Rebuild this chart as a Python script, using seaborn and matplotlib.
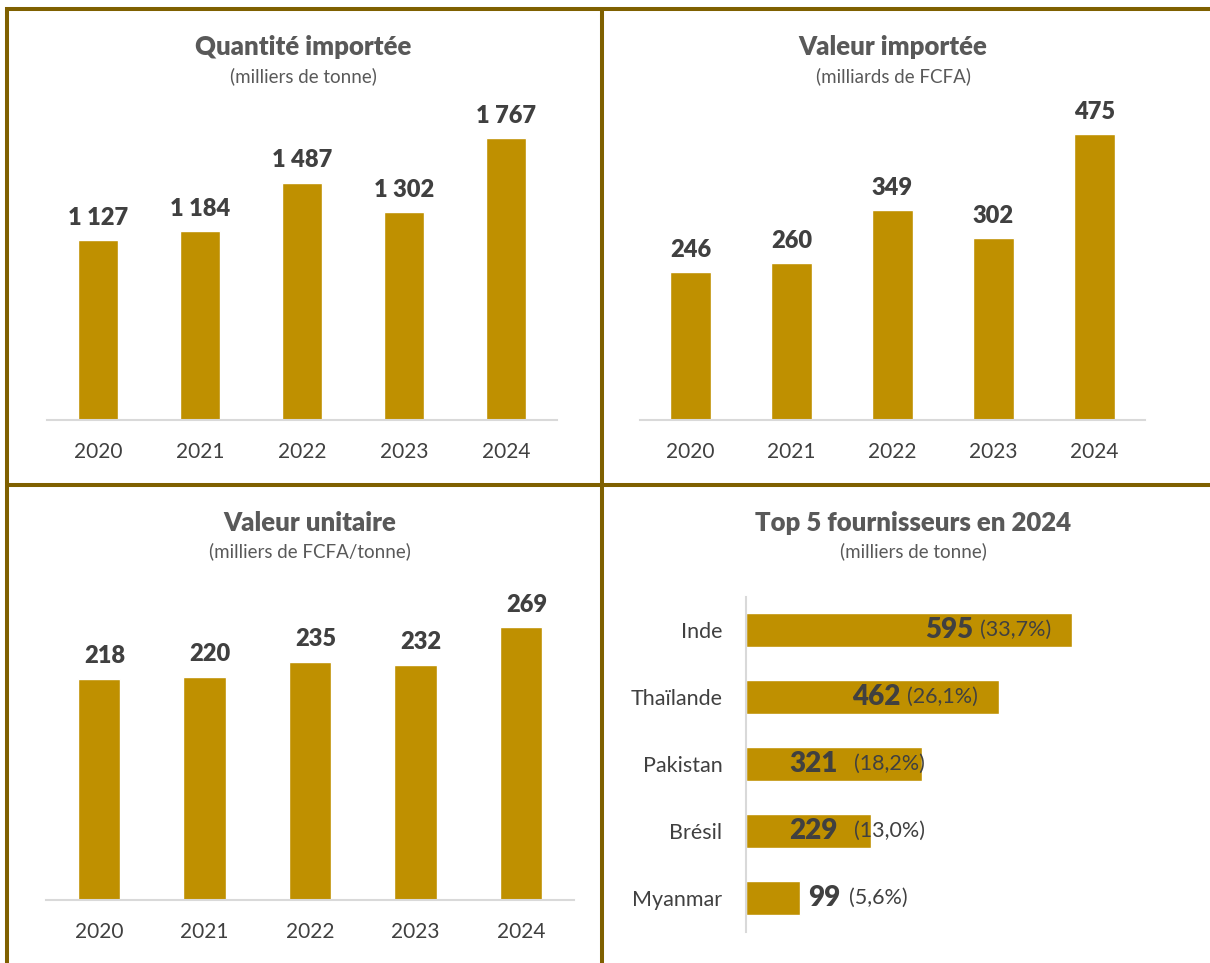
import matplotlib
matplotlib.use('Agg')
import matplotlib.pyplot as plt
import seaborn as sns
import pandas as pd
from matplotlib.lines import Line2D

# ---------------- data ----------------
years = ['2020', '2021', '2022', '2023', '2024']
quantite = [1127, 1184, 1487, 1302, 1767]      # milliers de tonne
valeur = [246, 260, 349, 302, 475]             # milliards de FCFA
unitaire = [218, 220, 235, 232, 269]           # milliers de FCFA/tonne
pays = ['Inde', 'Thaïlande', 'Pakistan', 'Brésil', 'Myanmar']
fournisseurs = [595, 462, 321, 229, 99]        # milliers de tonne
parts = ['33,7%', '26,1%', '18,2%', '13,0%', '5,6%']

titles = ['Quantité importée', 'Valeur importée', 'Valeur unitaire', 'Top 5 fournisseurs en 2024']
subtitles = ['(milliers de tonne)', '(milliards de FCFA)', '(milliers de FCFA/tonne)', '(milliers de tonne)']

# ---------------- style ----------------
BAR = '#BF9000'
BORDER = '#7F6000'
DARK = '#404040'
TITLE = '#595959'
AXIS = '#D9D9D9'

sns.set_theme(style='white')
plt.rcParams['font.family'] = ['Lato', 'DejaVu Sans']

W, H = 1210, 963
fig = plt.figure(figsize=(W / 100, H / 100), dpi=100)


def ax_px(l, t, r, b):
    return fig.add_axes([l / W, 1 - b / H, (r - l) / W, (b - t) / H])


def fmt(v):
    return f'{v:,}'.replace(',', ' ')


def vbar_panel(ax, values, dx=0):
    df = pd.DataFrame({'annee': years, 'valeur': values})
    sns.barplot(data=df, x='annee', y='valeur', color=BAR, saturation=1,
                width=0.4, ax=ax)
    ax.set_xlim(-0.5, len(years) - 0.5)
    ax.set_ylim(0, max(values))
    for i, v in enumerate(values):
        ax.annotate(fmt(v), xy=(i, v), xytext=(dx, 11), textcoords='offset points',
                    ha='center', va='baseline', fontsize=17, fontweight='heavy',
                    color=DARK, annotation_clip=False)
    for s in ['top', 'right', 'left']:
        ax.spines[s].set_visible(False)
    ax.spines['bottom'].set_color(AXIS)
    ax.spines['bottom'].set_linewidth(1.5)
    ax.set_xlabel('')
    ax.set_ylabel('')
    ax.set_yticks([])
    ax.tick_params(axis='x', length=0, pad=16, labelsize=15, labelcolor=DARK)
    ax.patch.set_alpha(0)


# Panel 1
ax1 = ax_px(47, 138, 557, 420)
vbar_panel(ax1, quantite)
# Panel 2
ax2 = ax_px(640, 134, 1145, 420)
vbar_panel(ax2, valeur)
# Panel 3
ax3 = ax_px(46, 627, 574, 900)
vbar_panel(ax3, unitaire, dx=4)

# Panel 4 : horizontal bars
ax4 = ax_px(746, 596.5, 1072, 931.5)
df4 = pd.DataFrame({'pays': pays, 'valeur': fournisseurs})
sns.barplot(data=df4, x='valeur', y='pays', orient='h', color=BAR, saturation=1,
            width=0.5, ax=ax4)
ax4.set_xlim(0, max(fournisseurs))
ax4.set_ylim(len(pays) - 0.5, -0.5)
for s in ['top', 'right', 'bottom']:
    ax4.spines[s].set_visible(False)
ax4.spines['left'].set_color(AXIS)
ax4.spines['left'].set_linewidth(1.5)
ax4.set_xlabel('')
ax4.set_ylabel('')
ax4.set_xticks([])
ax4.tick_params(axis='y', length=0, pad=17, labelsize=15.5, labelcolor=DARK)
ax4.patch.set_alpha(0)

modes = ['inside_end', 'inside_end', 'inside_base', 'inside_base', 'outside_end']
for i, (v, p, m) in enumerate(zip(fournisseurs, parts, modes)):
    if m == 'inside_end':
        pct = ax4.annotate(f'({p})', xy=(v, i), xytext=(-15, 0), textcoords='offset points',
                           ha='right', va='center', fontsize=15.5, color=DARK,
                           annotation_clip=False)
        ax4.annotate(fmt(v), xy=(0, 0.5), xycoords=pct, xytext=(-5, 0),
                     textcoords='offset points', ha='right', va='center',
                     fontsize=20, fontweight='heavy', color=DARK)
    else:
        if m == 'inside_base':
            anchor, off, gap = (0, i), 31, 12
        else:
            anchor, off, gap = (v, i), 6, 6
        num = ax4.annotate(fmt(v), xy=anchor, xytext=(off, 0), textcoords='offset points',
                           ha='left', va='center', fontsize=20, fontweight='heavy',
                           color=DARK, annotation_clip=False)
        ax4.annotate(f'({p})', xy=(1, 0.5), xycoords=num, xytext=(gap, 0),
                     textcoords='offset points', ha='left', va='center',
                     fontsize=15.5, color=DARK)

# ---------------- titles ----------------
title_pos = [(303, 47, 76), (893, 47, 76), (310, 523, 551), (913, 523, 551)]
for (x, yt, ys), t, st in zip(title_pos, titles, subtitles):
    fig.text(x / W, 1 - yt / H, t, ha='center', va='center', fontsize=18.5,
             fontweight='heavy', color=TITLE)
    fig.text(x / W, 1 - ys / H, st, ha='center', va='center', fontsize=13.5,
             color=TITLE)

# ---------------- frame lines ----------------
def hline(y, x0, x1):
    fig.add_artist(Line2D([x0 / W, x1 / W], [1 - y / H, 1 - y / H],
                          transform=fig.transFigure, color=BORDER, lw=2.9,
                          solid_capstyle='butt'))


def vline(x, y0, y1):
    fig.add_artist(Line2D([x / W, x / W], [1 - y0 / H, 1 - y1 / H],
                          transform=fig.transFigure, color=BORDER, lw=2.9,
                          solid_capstyle='butt'))


hline(9, 5, 1210)
hline(485, 5, 1210)
vline(6.5, 7, 963)
vline(602, 7, 963)

fig.savefig('out.png', dpi=100, facecolor='white')
